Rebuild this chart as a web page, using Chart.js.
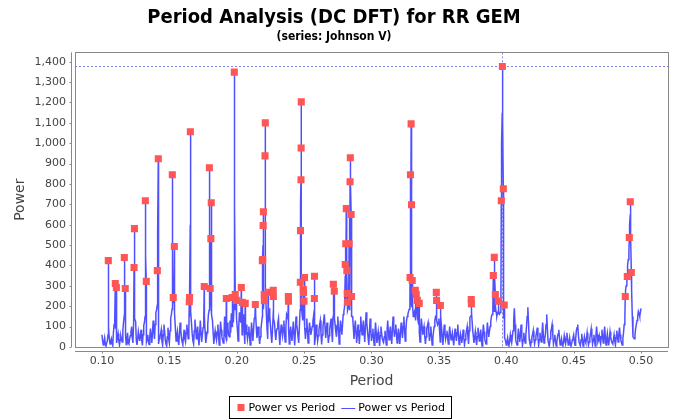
<!DOCTYPE html>
<html>
<head>
<meta charset="utf-8">
<title>Period Analysis (DC DFT) for RR GEM</title>
<script src="https://cdn.jsdelivr.net/npm/chart.js@4.4.1/dist/chart.umd.min.js"></script>
<style>
    html, body { margin: 0; padding: 0; background: #ffffff; }
    #wrap { width: 680px; height: 420px; }
</style>
</head>
<body>
<div id="wrap"><canvas id="dftChart" width="680" height="420"></canvas></div>
<script>
// periodogram sampled on a regular period grid (0.100 .. 0.500, step 0.001)
const periodStart = 0.100;
const periodStep = 0.001;
const gridPowers = [
    60, 10, 45, 5, 30, 95, 15, 40, 8, 110,
    90, 20, 65, 10, 55, 25, 120, 140, 12, 70,
    15, 55, 100, 20, 160, 125, 10, 75, 30, 85,
    8, 105, 150, 25, 60, 12, 90, 20, 130, 40,
    170, 205, 15, 50, 85, 10, 110, 35, 5, 95,
    20, 140, 185, 215, 165, 30, 75, 10, 120, 45,
    12, 85, 25, 110, 40, 150, 175, 60, 15, 135,
    40, 100, 8, 130, 25, 95, 150, 20, 70, 160,
    195, 205, 130, 15, 80, 35, 110, 10, 125, 50,
    20, 150, 45, 120, 60, 130, 165, 195, 210, 180,
    140, 30, 170, 120, 60, 160, 15, 110, 40, 100,
    10, 120, 30, 140, 165, 45, 100, 15, 90, 150,
    185, 225, 160, 40, 190, 110, 20, 150, 120, 35,
    90, 140, 10, 110, 55, 130, 25, 160, 140, 15,
    100, 30, 125, 8, 150, 85, 20, 180, 225, 130,
    165, 40, 140, 20, 120, 60, 100, 150, 10, 110,
    30, 85, 130, 12, 100, 160, 45, 120, 20, 90,
    140, 25, 170, 110, 50, 150, 15, 130, 60, 160,
    195, 225, 245, 200, 180, 215, 150, 40, 130, 20,
    110, 15, 150, 60, 130, 25, 170, 80, 10, 140,
    30, 90, 8, 120, 20, 75, 5, 100, 40, 25,
    80, 10, 130, 35, 100, 15, 150, 50, 110, 20,
    90, 15, 120, 45, 150, 30, 130, 160, 185, 205,
    195, 150, 175, 130, 165, 110, 25, 140, 60, 100,
    15, 90, 120, 30, 100, 10, 75, 130, 155, 110,
    140, 25, 95, 10, 110, 40, 80, 15, 100, 35,
    70, 8, 90, 30, 110, 12, 65, 20, 85, 10,
    60, 100, 15, 145, 155, 90, 20, 75, 10, 95,
    30, 85, 5, 110, 40, 15, 120, 50, 100, 150,
    165, 175, 195, 150, 175, 160, 185, 1150, 140, 45,
    10, 45, 5, 60, 20, 80, 190, 35, 10, 90,
    25, 110, 8, 70, 20, 100, 195, 40, 5, 50,
    80, 15, 55, 95, 10, 70, 25, 120, 20, 60,
    160, 30, 10, 75, 110, 15, 60, 5, 50, 85,
    10, 40, 5, 55, 15, 70, 10, 45, 5, 35,
    60, 8, 80, 110, 25, 10, 65, 5, 50, 20,
    70, 10, 45, 90, 15, 60, 5, 100, 25, 55,
    15, 85, 20, 100, 10, 65, 8, 75, 30, 15,
    60, 10, 80, 25, 95, 35, 10, 70, 150, 300,
    400, 470, 650, 280, 50, 40, 90, 130, 175, 150,
    190
];

// in-between samples (0.1005 .. 0.4995, step 0.001)
const midStart = 0.1005;
const midPowers = [
    30, 25, 15, 20, 60, 40, 25, 20, 70, 140,
    250, 45, 30, 35, 40, 80, 150, 60, 35, 20,
    40, 70, 45, 120, 140, 30, 40, 50, 55, 35,
    60, 120, 450, 40, 25, 50, 55, 70, 80, 110,
    180, 550, 40, 65, 30, 60, 75, 15, 50, 40,
    80, 160, 500, 350, 90, 50, 30, 65, 80, 25,
    50, 40, 70, 75, 95, 600, 110, 30, 80, 90,
    70, 45, 65, 70, 60, 120, 80, 45, 110, 180,
    400, 160, 70, 50, 55, 70, 55, 65, 85, 35,
    40, 60, 30, 90, 50, 70, 100, 120, 700, 220,
    85, 100, 140, 240, 110, 80, 60, 75, 70, 50,
    60, 75, 85, 150, 100, 70, 55, 50, 120, 500,
    230, 300, 90, 120, 150, 60, 80, 140, 70, 80,
    120, 60, 70, 80, 95, 60, 100, 150, 90, 70,
    60, 80, 65, 75, 110, 50, 100, 700, 160, 275,
    100, 90, 75, 70, 90, 80, 125, 180, 60, 70,
    55, 110, 70, 60, 130, 100, 80, 70, 55, 115,
    80, 150, 140, 75, 100, 90, 70, 95, 110, 175,
    350, 520, 180, 650, 800, 150, 100, 85, 75, 65,
    60, 80, 100, 95, 75, 100, 120, 45, 75, 85,
    60, 45, 65, 70, 45, 40, 55, 70, 30, 50,
    45, 70, 80, 65, 55, 85, 100, 80, 65, 55,
    50, 70, 80, 100, 90, 80, 150, 175, 200, 900,
    200, 165, 150, 180, 140, 70, 90, 100, 80, 55,
    50, 105, 75, 65, 55, 40, 100, 150, 130, 120,
    80, 150, 50, 60, 75, 60, 45, 55, 65, 50,
    40, 50, 60, 70, 60, 40, 45, 50, 45, 35,
    80, 55, 80, 150, 170, 55, 45, 40, 50, 60,
    55, 45, 60, 75, 25, 65, 85, 75, 125, 160,
    250, 350, 170, 165, 165, 170, 1000, 1100, 200, 30,
    25, 20, 30, 35, 50, 130, 110, 20, 45, 55,
    60, 50, 35, 40, 55, 150, 120, 20, 25, 60,
    40, 35, 70, 45, 35, 40, 65, 60, 40, 110,
    90, 15, 40, 90, 60, 35, 30, 25, 65, 40,
    20, 15, 25, 30, 40, 35, 20, 20, 15, 45,
    30, 40, 95, 60, 15, 35, 30, 25, 30, 40,
    35, 25, 65, 50, 35, 30, 50, 60, 35, 30,
    50, 45, 60, 50, 35, 30, 40, 50, 20, 35,
    30, 45, 50, 60, 60, 20, 40, 110, 280, 330,
    430, 600, 550, 150, 45, 60, 110, 150, 165, 170
];

// top hits (red squares), they also lie on the periodogram line
const hitPeriods = [
    0.1047, 0.1099, 0.1107, 0.1166, 0.1173, 0.1238, 0.1241, 0.1322, 0.1329, 0.1411,
    0.1418, 0.1522, 0.1529, 0.1537, 0.1648, 0.1650, 0.1656, 0.1759, 0.1797, 0.1803,
    0.1808, 0.1811, 0.1923, 0.1967, 0.1982, 0.1989, 0.1997, 0.2034, 0.2041, 0.2063,
    0.2138, 0.2190, 0.2193, 0.2196, 0.2198, 0.2204, 0.2205, 0.2210, 0.2212, 0.2234,
    0.2271, 0.2272, 0.2383, 0.2384, 0.2472, 0.2473, 0.2477, 0.2478, 0.2479, 0.2494,
    0.2496, 0.2499, 0.2503, 0.2576, 0.2577, 0.2717, 0.2724, 0.2805, 0.2809, 0.2813,
    0.2817, 0.2820, 0.2822, 0.2834, 0.2841, 0.2843, 0.2849, 0.2852, 0.3286, 0.3289,
    0.3294, 0.3297, 0.3302, 0.3325, 0.3332, 0.3340, 0.3354, 0.3481, 0.3483, 0.3511,
    0.3740, 0.3741, 0.3904, 0.3911, 0.3919, 0.3941, 0.3963, 0.3971, 0.3978, 0.3985,
    0.4883, 0.4898, 0.4913, 0.4920, 0.4928
];
const hitPowers = [
    424, 312, 292, 439, 287, 390, 581, 718, 322, 375,
    924, 845, 243, 493, 222, 243, 1056, 297, 880, 287,
    532, 708, 238, 243, 1349, 258, 229, 292, 219, 214,
    209, 424, 429, 596, 664, 258, 229, 938, 1100, 268,
    278, 248, 248, 225, 318, 571, 821, 977, 1203, 282,
    268, 225, 341, 238, 347, 308, 274, 405, 507, 679,
    375, 263, 220, 507, 811, 929, 650, 248, 341, 845,
    1095, 698, 326, 278, 258, 229, 214, 268, 229, 204,
    233, 212, 351, 440, 258, 225, 718, 1377, 777, 206,
    248, 346, 537, 713, 366
];

const xTicks = [0.10, 0.15, 0.20, 0.25, 0.30, 0.35, 0.40, 0.45, 0.50];
const yTicks = [0, 100, 200, 300, 400, 500, 600, 700, 800, 900, 1000, 1100, 1200, 1300, 1400];

const seriesLabel = 'Power vs Period';
const lineColor = '#5050FF';
const hitColor = '#FF5555';
const axisGray = '#888888';
const labelGray = '#444444';

const linePoints = gridPowers
    .map((v, i) => ({ x: +(periodStart + i * periodStep).toFixed(4), y: v }))
    .concat(midPowers.map((v, i) => ({ x: +(midStart + i * periodStep).toFixed(4), y: v })))
    .concat(hitPeriods.map((p, i) => ({ x: p, y: hitPowers[i] })))
    .sort((a, b) => a.x - b.x);

const hitPoints = hitPeriods.map((p, i) => ({ x: p, y: hitPowers[i] }));

// crosshair sits on the strongest hit
let bestIdx = 0;
hitPowers.forEach((v, i) => { if (v > hitPowers[bestIdx]) bestIdx = i; });

const plotFrame = {
    id: 'plotFrame',
    beforeDatasetsDraw(chart) {
        const { ctx, chartArea: a, scales: { x, y } } = chart;
        ctx.save();
        // crosshair
        ctx.strokeStyle = 'rgba(90, 90, 230, 0.75)';
        ctx.lineWidth = 1;
        ctx.setLineDash([2, 2]);
        const cx = Math.round(x.getPixelForValue(hitPeriods[bestIdx])) + 0.5;
        const cy = Math.round(y.getPixelForValue(hitPowers[bestIdx])) + 0.5;
        ctx.beginPath();
        ctx.moveTo(a.left, cy); ctx.lineTo(a.right, cy);
        ctx.moveTo(cx, a.top); ctx.lineTo(cx, a.bottom);
        ctx.stroke();
        ctx.restore();
    },
    afterDraw(chart) {
        const { ctx, chartArea: a, scales: { x, y } } = chart;
        ctx.save();
        ctx.strokeStyle = axisGray;
        ctx.lineWidth = 1;
        ctx.setLineDash([]);
        ctx.strokeRect(Math.round(a.left) + 0.5, Math.round(a.top) + 0.5,
            Math.round(a.right - a.left), Math.round(a.bottom - a.top));

        // offset axis lines with little tick marks
        const ax = Math.round(a.left) - 3.5;
        const ay = Math.round(a.bottom) + 4.5;
        ctx.beginPath();
        ctx.moveTo(ax, a.top); ctx.lineTo(ax, a.bottom);
        yTicks.forEach(t => {
            const py = Math.round(y.getPixelForValue(t)) + 0.5;
            ctx.moveTo(ax - 2, py); ctx.lineTo(ax, py);
        });
        ctx.moveTo(a.left, ay); ctx.lineTo(a.right, ay);
        xTicks.forEach(t => {
            const px = Math.round(x.getPixelForValue(t)) + 0.5;
            ctx.moveTo(px, ay); ctx.lineTo(px, ay + 2);
        });
        ctx.stroke();

        // legend box
        ctx.font = '11px "DejaVu Sans"';
        ctx.textBaseline = 'middle';
        const tw = ctx.measureText(seriesLabel).width;
        const boxW = 8 + 7 + 4 + tw + 6 + 14 + 3 + tw + 6;
        const boxH = 22;
        const bx = Math.round((chart.width - boxW) / 2) + 0.5;
        const by = 396.5;
        ctx.strokeStyle = '#000000';
        ctx.strokeRect(bx, by, Math.round(boxW), boxH);
        const my = by + boxH / 2;
        let cur = bx + 8;
        ctx.fillStyle = hitColor;
        ctx.fillRect(cur, my - 3.5, 7, 7);
        cur += 7 + 4;
        ctx.fillStyle = '#000000';
        ctx.fillText(seriesLabel, cur, my + 0.5);
        cur += tw + 6;
        ctx.strokeStyle = lineColor;
        ctx.beginPath();
        ctx.moveTo(cur, Math.round(my) + 0.5); ctx.lineTo(cur + 14, Math.round(my) + 0.5);
        ctx.stroke();
        cur += 14 + 3;
        ctx.fillText(seriesLabel, cur, my + 0.5);
        ctx.restore();
    }
};

const ctx = document.getElementById('dftChart').getContext('2d');
new Chart(ctx, {
    type: 'line',
    data: {
        datasets: [
            {
                type: 'scatter',
                label: seriesLabel,
                data: hitPoints,
                pointStyle: 'rect',
                pointRadius: 5,
                pointBorderWidth: 0,
                backgroundColor: hitColor,
                borderColor: hitColor
            },
            {
                label: seriesLabel,
                data: linePoints,
                borderColor: lineColor,
                borderWidth: 1.5,
                pointRadius: 0,
                tension: 0,
                fill: false
            }
        ]
    },
    options: {
        responsive: false,
        animation: false,
        events: [],
        layout: { padding: { top: 0, right: 12, bottom: 27, left: 0 } },
        plugins: {
            legend: { display: false },
            tooltip: { enabled: false },
            title: {
                display: true,
                text: 'Period Analysis (DC DFT) for RR GEM',
                color: '#000000',
                font: { family: '"Liberation Sans Narrow", "DejaVu Sans Condensed", sans-serif', size: 20, weight: 'bold' },
                padding: { top: 6, bottom: 0 }
            },
            subtitle: {
                display: true,
                text: '(series: Johnson V)',
                color: '#000000',
                font: { family: '"Liberation Sans Narrow", "DejaVu Sans Condensed", sans-serif', size: 12, weight: 'bold' },
                padding: { top: 0, bottom: 8 }
            }
        },
        scales: {
            x: {
                type: 'linear',
                min: 0.08,
                max: 0.52,
                grid: { display: false, drawTicks: false },
                border: { display: false },
                afterBuildTicks: s => { s.ticks = xTicks.map(v => ({ value: v })); },
                afterFit: s => { s.height = 46; },
                ticks: {
                    padding: 8,
                    color: labelGray,
                    font: { family: '"DejaVu Sans"', size: 11 },
                    callback: v => v.toFixed(2)
                },
                title: {
                    display: true,
                    text: 'Period',
                    color: labelGray,
                    font: { family: '"DejaVu Sans"', size: 14 },
                    padding: { top: 0, bottom: 3 }
                }
            },
            y: {
                type: 'linear',
                min: 0,
                max: Math.max(...hitPowers) * 1.05,
                grid: { display: false, drawTicks: false },
                border: { display: false },
                afterBuildTicks: s => { s.ticks = yTicks.map(v => ({ value: v })); },
                afterFit: s => { s.width = 75; },
                ticks: {
                    padding: 9,
                    color: labelGray,
                    font: { family: '"DejaVu Sans"', size: 11 },
                    callback: v => v.toLocaleString('en-US')
                },
                title: {
                    display: true,
                    text: 'Power',
                    color: labelGray,
                    font: { family: '"DejaVu Sans"', size: 14 },
                    padding: { top: 12, bottom: 0 }
                }
            }
        }
    },
    plugins: [plotFrame]
});
</script>
</body>
</html>
